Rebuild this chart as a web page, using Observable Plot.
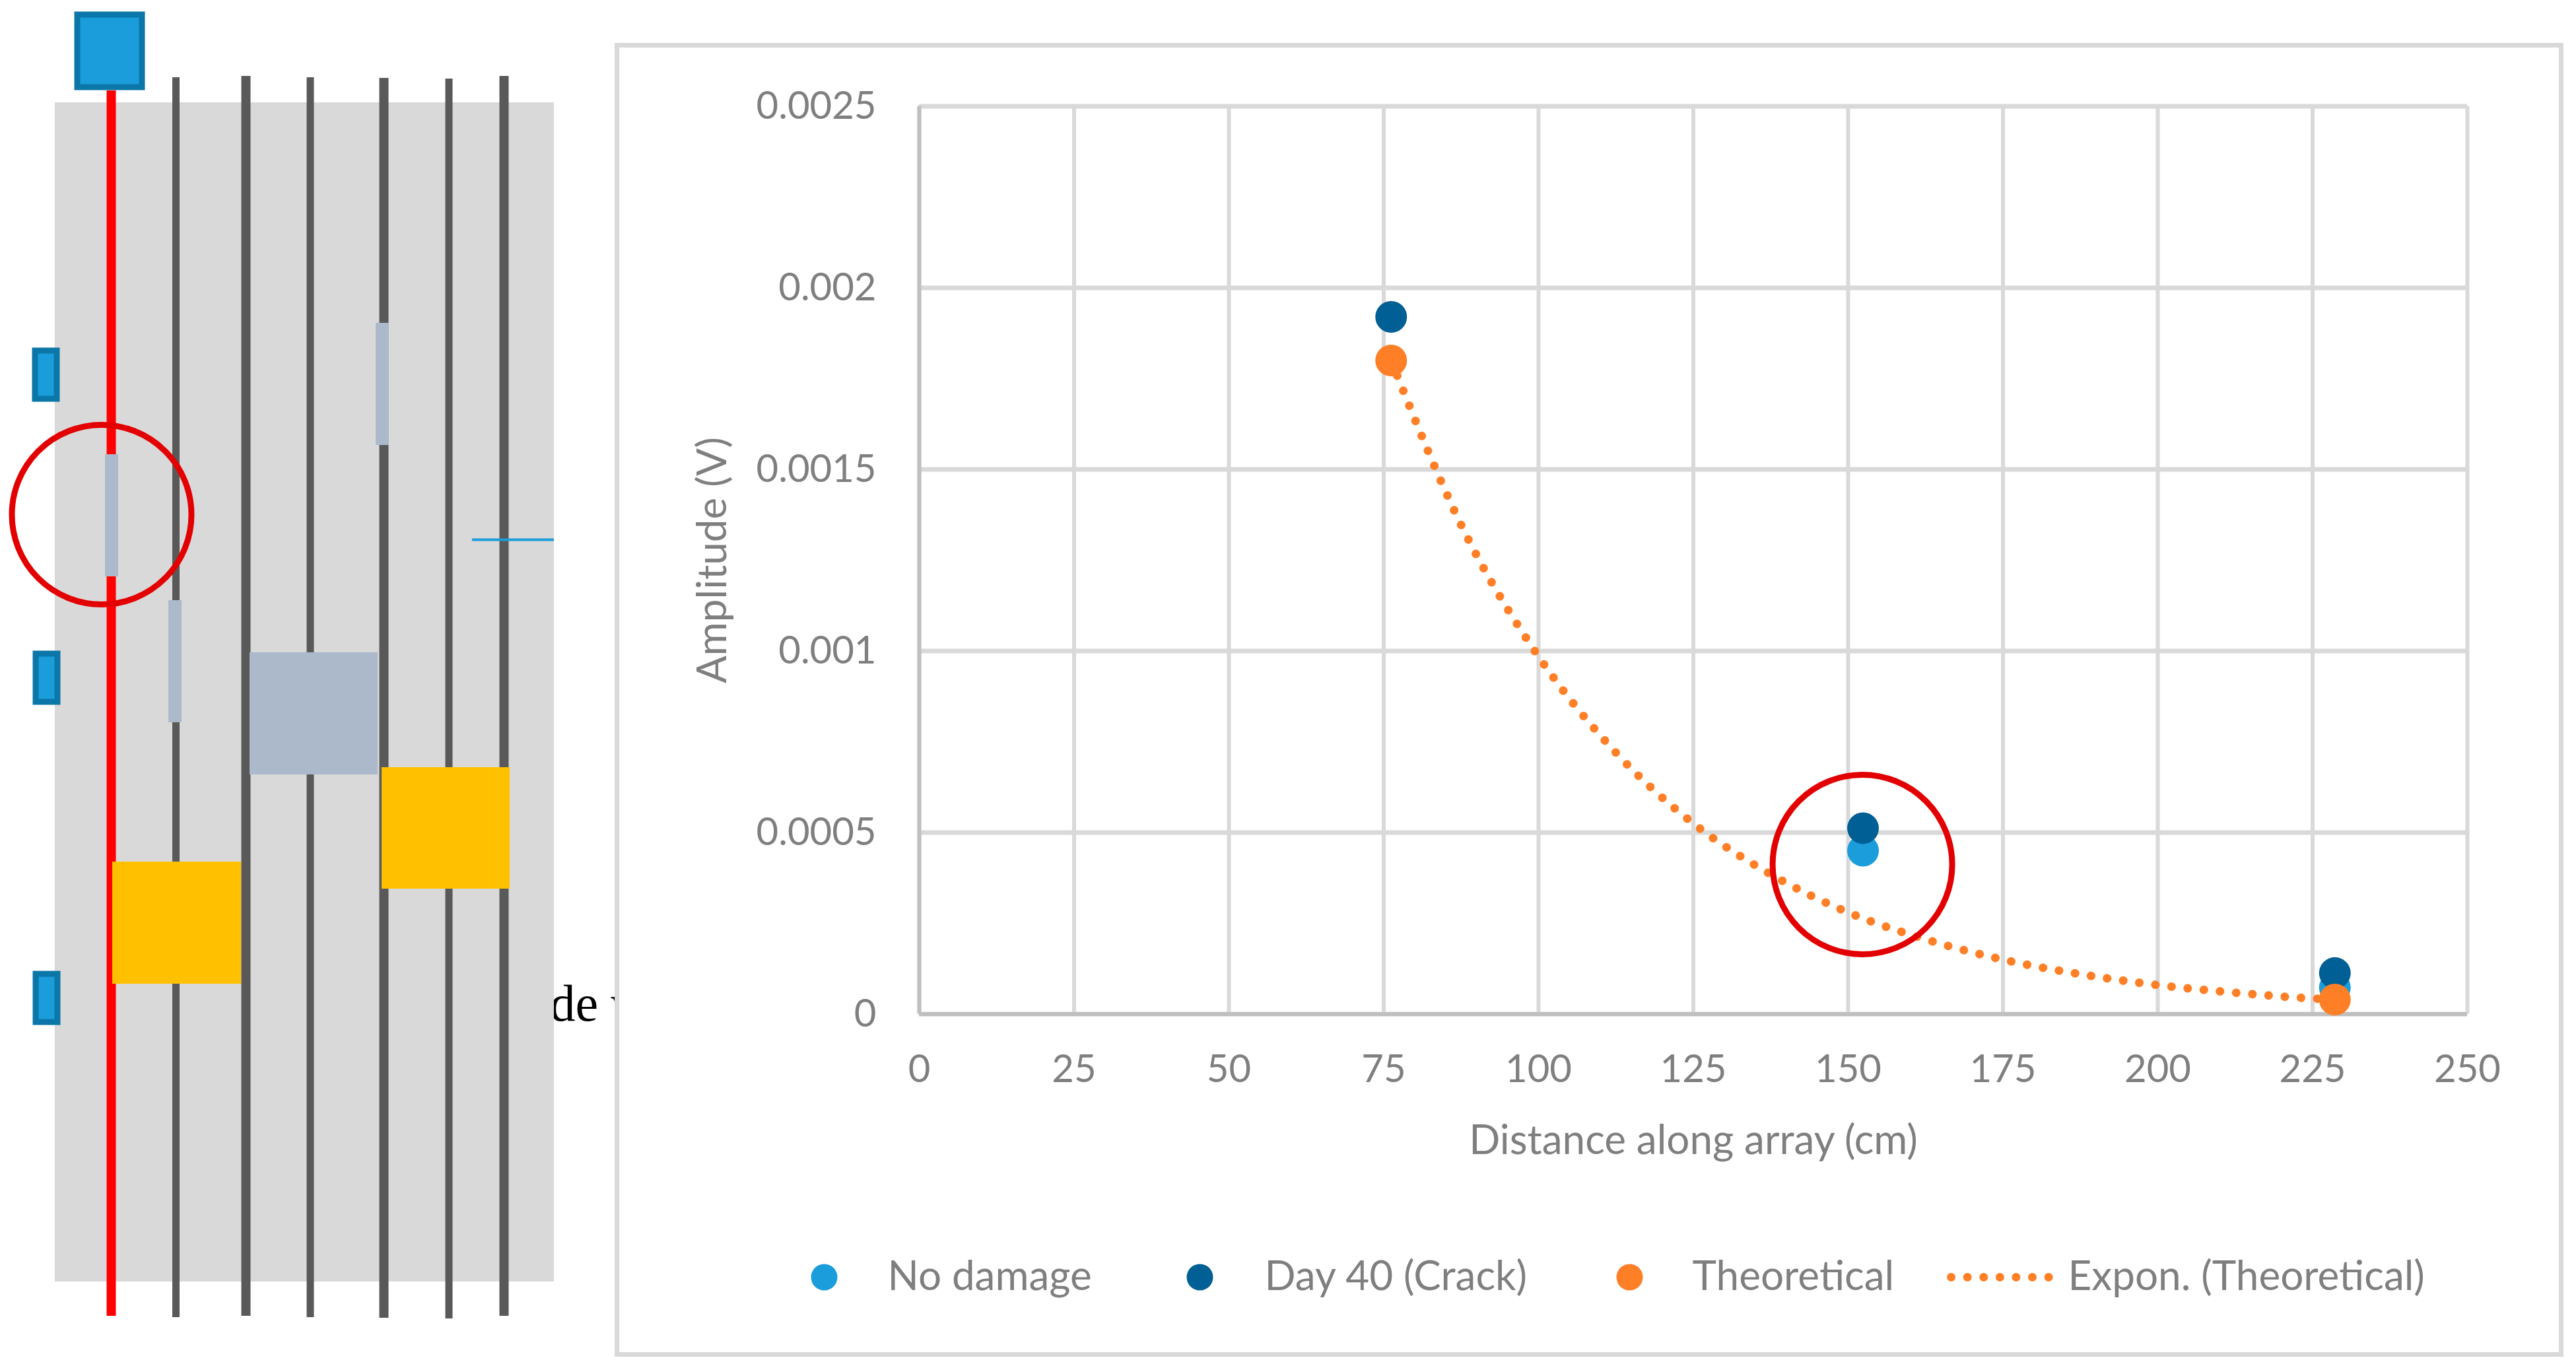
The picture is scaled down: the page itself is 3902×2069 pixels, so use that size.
<!DOCTYPE html>
<html>
<head>
<meta charset="utf-8">
<script src="https://cdn.jsdelivr.net/npm/d3@7"></script>
<script src="https://cdn.jsdelivr.net/npm/@observablehq/plot@0.6"></script>
<style>
html,body{margin:0;padding:0;background:#fff;}
#page{position:relative;width:3902px;height:2069px;overflow:hidden;background:#fff;}
#page>div,#page>svg{position:absolute;}
#frame{left:931px;top:65px;width:2938px;height:1976px;border:7px solid #D9D9D9;background:#fff;}
</style>
</head>
<body>
<div id="page"><div id="frame"></div></div>
<script>
// ---------- chart data ----------
const distance = [76.2, 152.4, 228.6];
const noDamage = [null, 0.00045, 0.000073];
const day40 = [0.00192, 0.000512, 0.000113];
const theoretical = [0.0018, null, 0.00004];
const trendX = [76.2, 88, 100, 112.5, 125, 137.5, 150, 162.5, 175, 187.5, 200, 212.5, 225, 228.6];
const trendY = [0.0018, 0.00133, 0.000985, 0.00072, 0.000525, 0.000385, 0.00028, 0.000206, 0.00015, 0.00011, 0.00008, 0.000059, 0.000043, 0.00004];
const xTicks = [0, 25, 50, 75, 100, 125, 150, 175, 200, 225, 250];
const yTicks = [0, 0.0005, 0.001, 0.0015, 0.002, 0.0025];
const crackMark = {x: 152.3, y: 0.000412};
const xTitle = "Distance along array (cm)";
const yTitle = "Amplitude (V)";

// ---------- legend ----------
const legendNames = ["No damage", "Day 40 (Crack)", "Theoretical"];
const legendColors = ["#1B9DDB", "#005F94", "#FF7F27"];
const legendDotX = [1248, 1817, 2468];
const legendTextX = [1344, 1915, 2563];
const legendLineX = [2955, 3104];
const legendLineName = "Expon. (Theoretical)";
const legendLineTextX = 3132;

// ---------- array schematic (schematic units) ----------
const sheet = [{x1: 83, x2: 839, y1: 155, y2: 1941}];
const cableThick = [{x: 372, y1: 115, y2: 1993}, {x: 581, y1: 118, y2: 1996}, {x: 763, y1: 115, y2: 1993}];
const cableThin = [{x: 266, y1: 117, y2: 1995}, {x: 469.5, y1: 117, y2: 1995}, {x: 679.5, y1: 119, y2: 1997}];
const activeCable = [{x: 168, y1: 137, y2: 1993}];
const receivers = [{x1: 53, x2: 86, y1: 531, y2: 604}, {x1: 54, x2: 87, y1: 990, y2: 1063}, {x1: 54, x2: 87, y1: 1475, y2: 1548}];
const source = [{x1: 117, x2: 215, y1: 22, y2: 132}];
const patches = [
  {x1: 569, x2: 589, y1: 489, y2: 674},
  {x1: 159, x2: 179, y1: 688, y2: 873},
  {x1: 255, x2: 275, y1: 909, y2: 1094},
  {x1: 378, x2: 572, y1: 988, y2: 1173}
];
const weights = [{x1: 578, x2: 772, y1: 1162, y2: 1346}, {x1: 170, x2: 365, y1: 1305, y2: 1490}];
const wire = [{x1: 715, x2: 839, y: 817}];
const schematicCircle = {x: 153.5, y: 779};
const strayText = {label: "de v", x: 832, y: 1545};

const grey = "#7F7F7F";
const page = document.getElementById("page");
function place(el, left, top, z) {
  el.style.position = "absolute"; el.style.left = left + "px"; el.style.top = top + "px";
  el.style.zIndex = z; el.style.background = "transparent"; el.style.maxWidth = "none";
  page.appendChild(el);
}

// schematic
const schematic = Plot.plot({
  width: 931, height: 2069, margin: 0,
  x: {domain: [0, 931], range: [0, 931], axis: null},
  y: {domain: [0, 2069], range: [0, 2069], axis: null},
  style: {background: "transparent"},
  marks: [
    Plot.text([strayText], {x: "x", y: "y", text: "label", textAnchor: "start", lineAnchor: "bottom", fontFamily: "Liberation Serif", fontSize: 78, fill: "#000"}),
    Plot.rect(sheet, {x1: "x1", x2: "x2", y1: "y1", y2: "y2", fill: "#D9D9D9"}),
    Plot.ruleX(cableThick, {x: "x", y1: "y1", y2: "y2", stroke: "#595959", strokeWidth: 14}),
    Plot.ruleX(cableThin, {x: "x", y1: "y1", y2: "y2", stroke: "#595959", strokeWidth: 11}),
    Plot.ruleX(activeCable, {x: "x", y1: "y1", y2: "y2", stroke: "#FF0000", strokeWidth: 14}),
    Plot.ruleY(wire, {y: "y", x1: "x1", x2: "x2", stroke: "#1B9DDB", strokeWidth: 4}),
    Plot.rect(receivers, {x1: "x1", x2: "x2", y1: "y1", y2: "y2", fill: "#1B9DDB", stroke: "#0B76A8", strokeWidth: 9, strokeLinejoin: "miter"}),
    Plot.rect(source, {x1: "x1", x2: "x2", y1: "y1", y2: "y2", fill: "#1B9DDB", stroke: "#0B76A8", strokeWidth: 9, strokeLinejoin: "miter"}),
    Plot.rect(patches, {x1: "x1", x2: "x2", y1: "y1", y2: "y2", fill: "#ABB9CA"}),
    Plot.rect(weights, {x1: "x1", x2: "x2", y1: "y1", y2: "y2", fill: "#FFC000"}),
    Plot.dot([schematicCircle], {x: "x", y: "y", r: 136, fill: "none", stroke: "#E30000", strokeWidth: 9})
  ]
});
place(schematic, 0, 0, 2);

// chart
const rows = (ys) => distance.map((x, i) => ({x, y: ys[i]})).filter(d => d.y !== null);
const chart = Plot.plot({
  width: 2952, height: 1725,
  marginLeft: 461, marginRight: 146, marginTop: 95.5, marginBottom: 254.5,
  x: {domain: [0, 250], label: null},
  y: {domain: [0, 0.0025], label: null},
  style: {background: "transparent", fontFamily: "Lato", color: grey},
  marks: [
    Plot.gridX(xTicks, {stroke: "#D9D9D9", strokeOpacity: 1, strokeWidth: 6}),
    Plot.gridY(yTicks, {stroke: "#D9D9D9", strokeOpacity: 1, strokeWidth: 7}),
    Plot.ruleX([0], {stroke: "#BFBFBF", strokeWidth: 6}),
    Plot.ruleY([0], {stroke: "#BFBFBF", strokeWidth: 6}),
    Plot.axisX({ticks: xTicks, tickSize: 0, tickPadding: 62, fontSize: 58, fill: grey, tickFormat: d => String(d), label: null}),
    Plot.axisY({ticks: yTicks, tickSize: 0, tickPadding: 65, fontSize: 58, fill: grey, tickFormat: d => String(d), label: null}),
    Plot.text([xTitle], {frameAnchor: "bottom", textAnchor: "middle", lineAnchor: "middle", dy: 192, fontSize: 62, fill: grey}),
    Plot.text([yTitle], {frameAnchor: "left", textAnchor: "middle", lineAnchor: "middle", rotate: -90, dx: -312, fontSize: 62, fill: grey}),
    Plot.line(trendX.map((x, i) => ({x, y: trendY[i]})), {x: "x", y: "y", curve: "monotone-x", stroke: "#FF7F27", strokeWidth: 13, strokeLinecap: "round", strokeDasharray: "0.1 24.5"}),
    Plot.dot(rows(noDamage), {x: "x", y: "y", r: 24, fill: legendColors[0]}),
    Plot.dot(rows(day40), {x: "x", y: "y", r: 24, fill: legendColors[1]}),
    Plot.dot(rows(theoretical), {x: "x", y: "y", r: 24, fill: legendColors[2]}),
    Plot.dot([crackMark], {x: "x", y: "y", r: 136, fill: "none", stroke: "#E30000", strokeWidth: 9})
  ]
});
place(chart, 931, 65, 3);

// legend
const legendRows = legendNames.map((name, i) => ({name, color: legendColors[i], dot: legendDotX[i], text: legendTextX[i], y: 0}));
const legend = Plot.plot({
  width: 2938, height: 250, margin: 0,
  x: {domain: [938, 3876], range: [0, 2938], axis: null},
  y: {domain: [-125, 125], range: [0, 250], axis: null},
  style: {background: "transparent", fontFamily: "Lato"},
  marks: [
    Plot.dot(legendRows, {x: "dot", y: "y", r: 20, fill: "color"}),
    Plot.text(legendRows, {x: "text", y: "y", text: "name", textAnchor: "start", fontSize: 62, fill: grey}),
    Plot.line(legendLineX.map(x => ({x, y: 0})), {x: "x", y: "y", stroke: "#FF7F27", strokeWidth: 13, strokeLinecap: "round", strokeDasharray: "0.1 24.5"}),
    Plot.text([{name: legendLineName, x: legendLineTextX, y: 0}], {x: "x", y: "y", text: "name", textAnchor: "start", fontSize: 62, fill: grey})
  ]
});
place(legend, 938, 1809, 3);
</script>
</body>
</html>
